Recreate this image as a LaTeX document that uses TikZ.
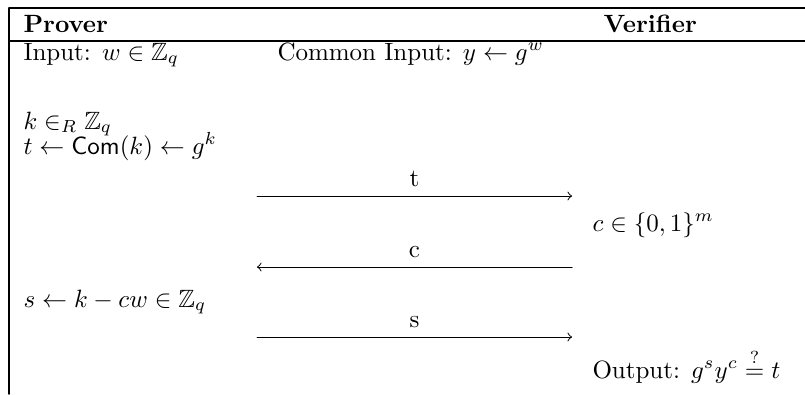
\documentclass[tikz,border=0pt]{standalone}
\usepackage{amsmath,amssymb}
\usepackage{xcolor}

\begin{document}
\begin{tikzpicture}[>=to, line cap=round, line join=round, x=0.4pt, y=-0.4pt]

  % Parameters
  \def\xL{9}        % left rule
  \def\xR{805}      % right end of the rules
  \def\yTop{8}      % top rule
  \def\yHead{41}    % rule below the header
  \def\yBot{394}    % bottom of the left rule
  \def\xP{23}       % prover column
  \def\xV{592}      % verifier column
  \def\xA{257}      % left end of the messages
  \def\xB{572}      % right end of the messages

  \useasboundingbox (0,0) rectangle (805,394);

  % ---- Frame ----
  \draw[line width=0.6pt] (\xL,\yTop) -- (\xR,\yTop);
  \draw[line width=0.6pt] (\xL,\yHead) -- (\xR,\yHead);
  \draw[line width=0.6pt] (\xL,\yTop) -- (\xL,\yBot);

  % ---- Header ----
  \node[anchor=base west, inner sep=0pt] (prover) at (\xP,32) {\textbf{Prover}};
  \node[anchor=base west, inner sep=0pt] (verifier) at (603,32) {\textbf{Verifier}};

  % ---- Inputs ----
  \node[anchor=base west, inner sep=0pt] (input) at (\xP,60) {Input: $w \in \mathbb{Z}_q$};
  \node[anchor=base west, inner sep=0pt] (common) at (277,60) {Common Input: $y \leftarrow g^w$};

  % ---- Prover commits ----
  \node[anchor=base west, inner sep=0pt] (kdraw) at (\xP,129) {$k \in_R \mathbb{Z}_q$};
  \node[anchor=base west, inner sep=0pt] (tcom) at (\xP,154) {$t \leftarrow \mathsf{Com}(k) \leftarrow g^k$};

  % ---- Verifier challenges ----
  \node[anchor=base west, inner sep=0pt] (chal) at (\xV,231) {$c \in \{0,1\}^m$};

  % ---- Prover responds ----
  \node[anchor=base west, inner sep=0pt] (resp) at (\xP,307) {$s \leftarrow k - cw \in \mathbb{Z}_q$};

  % ---- Verifier checks ----
  \node[anchor=base west, inner sep=0pt] (output) at (\xV,378) {Output: $g^s y^c \stackrel{?}{=} t$};

  % ---- Messages ----
  \foreach \msg/\y/\tip in {t/196/->,c/267/<-,s/337/->}{
    \coordinate (\msg-l) at (\xA,\y);
    \coordinate (\msg-r) at (\xB,\y);
    \draw[\tip] (\msg-l) -- node[above] (\msg-lab) {\msg} (\msg-r);
  }

\end{tikzpicture}
\end{document}
